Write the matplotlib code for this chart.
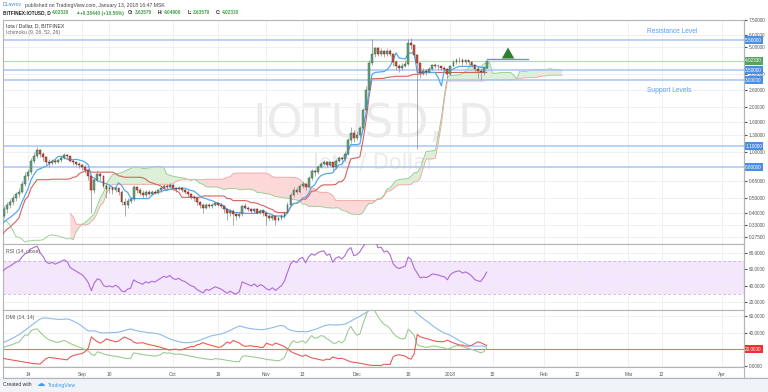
import numpy as np
import pandas as pd
import matplotlib
matplotlib.use('Agg')
import matplotlib.pyplot as plt
from matplotlib.patches import Rectangle
from matplotlib.lines import Line2D

W, H = 768, 392
plt.rcParams['font.family'] = ['Liberation Sans', 'DejaVu Sans']

# daily bars, Bitfinex IOTUSD. history before the visible window (Jun 13 - Aug 5 2017)
pre_close = [0.59, 0.43, 0.41, 0.45, 0.50, 0.44, 0.45, 0.43, 0.39, 0.37, 0.39, 0.35, 0.36, 0.31,
             0.37, 0.38, 0.38, 0.40, 0.36, 0.40, 0.41, 0.40, 0.39, 0.38, 0.34, 0.36, 0.33, 0.27,
             0.26, 0.27, 0.26, 0.24, 0.20, 0.17, 0.21, 0.27, 0.25, 0.29, 0.27, 0.30, 0.28, 0.29,
             0.26, 0.28, 0.26, 0.29, 0.27, 0.29, 0.27, 0.29, 0.27, 0.30, 0.31, 0.38]
pre_high = [0.64, 0.60, 0.46, 0.47, 0.52, 0.51, 0.48, 0.47, 0.44, 0.41, 0.41, 0.40, 0.38, 0.37,
            0.39, 0.41, 0.40, 0.42, 0.41, 0.42, 0.43, 0.42, 0.41, 0.40, 0.39, 0.37, 0.37, 0.34,
            0.29, 0.29, 0.28, 0.27, 0.25, 0.21, 0.23, 0.29, 0.29, 0.31, 0.31, 0.32, 0.31, 0.31,
            0.30, 0.30, 0.29, 0.31, 0.30, 0.31, 0.30, 0.31, 0.30, 0.32, 0.33, 0.40]
pre_low = [0.55, 0.40, 0.37, 0.40, 0.44, 0.42, 0.42, 0.41, 0.37, 0.34, 0.36, 0.33, 0.33, 0.29,
           0.30, 0.35, 0.36, 0.37, 0.34, 0.35, 0.38, 0.37, 0.37, 0.36, 0.32, 0.32, 0.31, 0.25,
           0.24, 0.25, 0.24, 0.22, 0.18, 0.15, 0.16, 0.20, 0.23, 0.24, 0.25, 0.26, 0.26, 0.26,
           0.24, 0.25, 0.24, 0.25, 0.25, 0.26, 0.25, 0.26, 0.25, 0.26, 0.29, 0.30]

# visible bars Aug 6 2017 - Jan 13 2018
close = [0.42, 0.45, 0.47, 0.50, 0.53, 0.55, 0.62, 0.70, 0.74, 0.88, 0.95, 1.03, 0.97,
         0.93, 0.87, 0.85, 0.88, 0.86, 0.89, 0.92, 0.96, 0.94, 0.88, 0.86, 0.84, 0.82,
         0.80, 0.76, 0.70, 0.56, 0.66, 0.72, 0.70, 0.60, 0.57, 0.58, 0.56, 0.58, 0.55,
         0.47, 0.45, 0.48, 0.49, 0.59, 0.56, 0.54, 0.52, 0.55, 0.53, 0.55, 0.54, 0.56,
         0.58, 0.60, 0.59, 0.61, 0.58, 0.57, 0.58, 0.56, 0.55, 0.53, 0.51, 0.50, 0.47,
         0.45, 0.43, 0.45, 0.44, 0.45, 0.46, 0.45, 0.44, 0.42, 0.40, 0.41, 0.39, 0.38,
         0.39, 0.44, 0.43, 0.42, 0.41, 0.42, 0.40, 0.41, 0.40, 0.38, 0.37, 0.38, 0.36,
         0.37, 0.38, 0.40, 0.45, 0.52, 0.56, 0.55, 0.60, 0.62, 0.59, 0.68, 0.75, 0.74,
         0.80, 0.84, 0.86, 0.83, 0.86, 0.80, 0.88, 0.92, 0.90, 0.98,
         1.20, 1.35, 1.25, 1.30, 1.45, 1.90, 2.60, 3.90, 4.50, 4.90, 4.50, 4.70, 4.45, 4.70, 4.50,
         3.95, 3.70, 3.60, 3.75, 3.85, 5.30, 5.10, 4.40, 3.90, 3.35, 3.45, 3.40, 3.55,
         3.80, 3.75, 3.70, 3.60, 3.55, 3.30, 3.75, 3.95, 4.05, 4.10, 3.95, 4.05, 3.95,
         3.80, 3.55, 3.45, 3.40, 3.639, 4.0233]
high = [0.44, 0.47, 0.49, 0.52, 0.55, 0.58, 0.65, 0.74, 0.78, 0.92, 1.00, 1.08, 1.05,
        1.00, 0.95, 0.90, 0.91, 0.90, 0.91, 0.95, 0.99, 0.98, 0.95, 0.90, 0.88, 0.86,
        0.84, 0.82, 0.77, 0.71, 0.68, 0.76, 0.74, 0.71, 0.62, 0.61, 0.60, 0.60, 0.59,
        0.56, 0.50, 0.50, 0.51, 0.61, 0.60, 0.58, 0.56, 0.56, 0.56, 0.56, 0.56, 0.57,
        0.59, 0.62, 0.62, 0.63, 0.62, 0.59, 0.60, 0.59, 0.57, 0.56, 0.54, 0.52, 0.51,
        0.48, 0.46, 0.46, 0.46, 0.46, 0.47, 0.47, 0.46, 0.45, 0.43, 0.42, 0.42, 0.40,
        0.40, 0.45, 0.46, 0.44, 0.43, 0.43, 0.43, 0.42, 0.42, 0.41, 0.39, 0.39, 0.38,
        0.38, 0.39, 0.41, 0.47, 0.54, 0.59, 0.59, 0.62, 0.65, 0.63, 0.70, 0.78, 0.78,
        0.82, 0.87, 0.89, 0.88, 0.88, 0.87, 0.90, 0.95, 0.94, 1.02,
        1.25, 1.48, 1.40, 1.38, 1.50, 1.98, 2.75, 4.10, 5.60, 5.00, 4.95, 4.90, 4.75, 4.90, 4.80,
        4.55, 4.10, 3.85, 3.90, 4.10, 5.60, 5.70, 5.15, 4.45, 3.95, 3.60, 3.55, 3.65,
        3.85, 3.90, 3.85, 3.75, 3.70, 3.60, 3.80, 4.05, 4.20, 4.30, 4.20, 4.15, 4.10,
        4.00, 3.85, 3.65, 3.55, 3.70, 4.049]
low = [0.37, 0.40, 0.43, 0.45, 0.48, 0.51, 0.54, 0.60, 0.66, 0.72, 0.85, 0.92, 0.93,
       0.88, 0.83, 0.80, 0.83, 0.84, 0.85, 0.87, 0.90, 0.91, 0.86, 0.83, 0.81, 0.79,
       0.77, 0.73, 0.66, 0.40, 0.54, 0.64, 0.65, 0.58, 0.50, 0.54, 0.53, 0.55, 0.52,
       0.45, 0.38, 0.43, 0.46, 0.48, 0.54, 0.52, 0.50, 0.51, 0.52, 0.52, 0.53, 0.53,
       0.55, 0.57, 0.57, 0.58, 0.56, 0.55, 0.56, 0.55, 0.53, 0.51, 0.49, 0.48, 0.45,
       0.43, 0.40, 0.42, 0.43, 0.43, 0.44, 0.44, 0.43, 0.40, 0.36, 0.38, 0.33, 0.36,
       0.37, 0.38, 0.42, 0.41, 0.40, 0.40, 0.39, 0.39, 0.38, 0.33, 0.36, 0.36, 0.33,
       0.35, 0.36, 0.37, 0.40, 0.44, 0.51, 0.53, 0.54, 0.58, 0.56, 0.58, 0.66, 0.70,
       0.72, 0.79, 0.82, 0.80, 0.81, 0.77, 0.78, 0.87, 0.86, 0.88,
       0.96, 1.15, 1.18, 1.20, 1.25, 1.42, 1.85, 2.55, 3.80, 4.30, 4.35, 4.35, 4.25, 4.35, 4.35,
       3.70, 3.50, 3.40, 3.50, 3.65, 3.80, 4.85, 4.20, 1.05, 3.10, 3.25, 3.25, 3.35,
       3.50, 3.60, 3.55, 3.50, 3.40, 3.10, 3.25, 3.70, 3.85, 3.90, 3.80, 3.85, 3.80,
       3.65, 3.40, 3.10, 3.00, 3.25, 3.6357]

price_ticks = [7.5, 6.0, 5.0, 3.3, 2.6, 2.0, 1.6, 1.3, 1.0, 0.65, 0.5, 0.4, 0.33, 0.275]
levels = [5.5, 3.5, 3.0, 1.1, 0.8]
last_price = 4.0233
# day index 0 = Aug 6 2017
date_ticks = [8, 26, 35, 56, 71, 87, 99, 117, 134, 148, 162, 179, 190, 207, 218, 238]
date_labels = ['14', 'Sep', '10', 'Oct', '16', 'Nov', '13', 'Dec', '18', '2018', '15',
               'Feb', '12', 'Mar', '12', 'Apr']

n_pre = len(pre_close)
c = np.array(pre_close + close)
h = np.array(pre_high + high)
l = np.array(pre_low + low)
o = np.concatenate([[0.63], c[:-1]])
o[-1] = 3.6357
xs = np.arange(len(c)) - n_pre

Cs, Hs, Ls = pd.Series(c), pd.Series(h), pd.Series(l)

# ichimoku 9/26/52/26
tenkan = (Hs.rolling(9).max() + Ls.rolling(9).min()) / 2
kijun = (Hs.rolling(26).max() + Ls.rolling(26).min()) / 2
lead1 = ((tenkan + kijun) / 2).values
lead2 = ((Hs.rolling(52).max() + Ls.rolling(52).min()) / 2).values
xl = xs + 25


def rma(s, n=14):
    return s.ewm(alpha=1.0 / n, adjust=False).mean()


d = Cs.diff()
rsi = 100 - 100 / (1 + rma(d.clip(lower=0)) / rma((-d).clip(lower=0)))

up = Hs.diff()
dn = -Ls.diff()
pdm = pd.Series(np.where((up > dn) & (up > 0), up, 0.0))
mdm = pd.Series(np.where((dn > up) & (dn > 0), dn, 0.0))
tr = pd.concat([Hs - Ls, (Hs - Cs.shift()).abs(), (Ls - Cs.shift()).abs()], axis=1).max(axis=1)
atr = rma(tr)
pdi = 100 * rma(pdm) / atr
mdi = 100 * rma(mdm) / atr
adx = 100 * rma((pdi - mdi).abs() / (pdi + mdi))


def rect(x0, y0, x1, y1):
    return [x0 / W, 1 - y1 / H, (x1 - x0) / W, (y1 - y0) / H]


fig = plt.figure(figsize=(7.68, 3.92), dpi=100)
fig.patches.append(Rectangle((0, 0), 1, 15 / H, transform=fig.transFigure,
                             color='#f0f3f7', zorder=0))

XL = (-0.29, 245.3)
grid_c = '#eeeeee'
spine_c = '#b4b4b4'
axcol = '#555555'


def style(ax):
    ax.set_xlim(*XL)
    ax.set_xticks(date_ticks)
    ax.grid(True, color=grid_c, lw=0.6)
    ax.set_axisbelow(True)
    for s in ax.spines.values():
        s.set_color(spine_c)
        s.set_linewidth(0.8)
    ax.yaxis.tick_right()
    ax.tick_params(axis='y', direction='out', length=2, pad=1.5, labelsize=3.4,
                   colors=axcol, right=True, left=False)
    ax.tick_params(axis='x', length=0, labelbottom=False)


def tag(ax, val, txt, col):
    ax.text(1.0015, val, txt, transform=ax.get_yaxis_transform(), ha='left', va='center',
            fontsize=3.4, color='white', clip_on=False, zorder=10,
            bbox=dict(boxstyle='square,pad=0.3', fc=col, ec='none'))


# ---- main pane
ax = fig.add_axes(rect(3, 20, 744, 244))
ax.set_yscale('log')
ax.set_ylim(0.248, 7.42)
style(ax)
ax.set_yticks(price_ticks)
ax.set_yticklabels(['%.5f' % t for t in price_ticks])
ax.yaxis.set_minor_locator(matplotlib.ticker.NullLocator())

ax.text(0.5, 0.535, 'IOTUSD, D', transform=ax.transAxes, ha='center', va='center',
        fontsize=33, color='#ebebeb', zorder=0, family='DejaVu Sans')
ax.text(0.5, 0.365, 'Iota / Dollar', transform=ax.transAxes, ha='center', va='center',
        fontsize=15, color='#ebebeb', zorder=0, family='DejaVu Sans')

ax.fill_between(xl, lead1, lead2, where=lead1 >= lead2, interpolate=True,
                color='#ddefd9', lw=0, zorder=1)
ax.fill_between(xl, lead1, lead2, where=lead1 < lead2, interpolate=True,
                color='#fcd8d8', lw=0, zorder=1)
ax.plot(xl, lead1, color='#8fcb8b', lw=0.6, zorder=2)
ax.plot(xl, lead2, color='#f2a0a0', lw=0.6, zorder=2)
ax.plot(xs, kijun, color='#d6615c', lw=0.8, zorder=3)
ax.plot(xs, tenkan, color='#55a8f2', lw=0.9, zorder=3)

for lv in levels:
    ax.axhline(lv, color='#a8c6f4', lw=1.1, zorder=2)
    tag(ax, lv, '%.5f' % lv, '#4a8fe7')
ax.axhline(last_price, color='#b5d9b3', lw=0.8, zorder=2)
tag(ax, last_price, '%.5f' % last_price, '#58a35c')

isup = c >= o
ax.vlines(xs, l, h, color='#8a8a8c', lw=0.5, zorder=4)
ax.bar(xs[isup], (c - o)[isup], bottom=o[isup], width=0.62, color='#6ba583',
       edgecolor='#225437', lw=0.3, zorder=5)
ax.bar(xs[~isup], (o - c)[~isup], bottom=c[~isup], width=0.62, color='#d75442',
       edgecolor='#5b1a13', lw=0.3, zorder=5)

# drawings
ax.plot([160, 173.7], [4.16, 4.16], color='#7f86ee', lw=1.0, zorder=6)
ax.annotate('', xy=(167.1, 5.15), xytext=(167.1, 4.35),
            arrowprops=dict(arrowstyle='simple,head_width=0.9,head_length=0.8,tail_width=0.4',
                            color='#2e7d32', lw=0))
ax.text(213, 6.25, 'Resistance Level', fontsize=4.8, color='#5b9cf6', va='center')
ax.text(213.3, 2.58, 'Support Levels', fontsize=4.8, color='#5b9cf6', va='center')

ax.text(0.004, 0.975, 'Iota / Dollar, D, BITFINEX', transform=ax.transAxes, fontsize=3.7,
        color='#333333', va='center')
ax.text(0.004, 0.943, 'Ichimoku (9, 26, 52, 26)', transform=ax.transAxes, fontsize=3.7,
        color='#666666', va='center')

# ---- RSI pane
ax2 = fig.add_axes(rect(3, 244, 744, 310))
ax2.set_ylim(10.2, 91)
style(ax2)
ax2.set_yticks([20, 40, 60, 80])
ax2.set_yticklabels(['%.4f' % t for t in [20, 40, 60, 80]])
ax2.axhspan(30, 70, color='#f3e6fd', lw=0, zorder=0.5)
ax2.axhline(70, color='#c2aed6', lw=0.6, ls=(0, (3, 3)))
ax2.axhline(30, color='#c2aed6', lw=0.6, ls=(0, (3, 3)))
ax2.plot(xs, rsi, color='#b06ad8', lw=0.8, zorder=3)
ax2.text(0.004, 0.88, 'RSI (14, close)', transform=ax2.transAxes, fontsize=3.7,
         color='#555555', va='center')

# ---- DMI pane
ax3 = fig.add_axes(rect(3, 310, 744, 367))
ax3.set_ylim(-1.2, 67.2)
style(ax3)
ax3.set_yticks([0, 20, 40, 60])
ax3.set_yticklabels(['0.0000', '', '40.0000', '60.0000'])
ax3.plot(xs, adx, color='#8dbbe9', lw=0.8, zorder=3)
ax3.plot(xs, pdi, color='#9ccb96', lw=0.8, zorder=3)
ax3.plot(xs, mdi, color='#e65c5c', lw=0.8, zorder=3)
ax3.axhline(20, color='#f07070', lw=0.8, zorder=2)
tag(ax3, 20, '20.0000', '#f23030')
ax3.text(0.004, 0.87, 'DMI (14, 14)', transform=ax3.transAxes, fontsize=3.7,
         color='#555555', va='center')
ax3.tick_params(axis='x', labelbottom=True, length=0, pad=3.5, labelsize=3.5,
                colors=axcol)
ax3.set_xticklabels(date_labels)

# frame lines
fig.add_artist(Line2D([744 / W, 744 / W], [1 - 20 / H, 1 - 378 / H], color=spine_c, lw=0.8))
fig.add_artist(Line2D([3 / W, 768 / W], [1 - 378 / H, 1 - 378 / H], color=spine_c, lw=0.8))
fig.add_artist(Line2D([3 / W, 3 / W], [1 - 367 / H, 1 - 378 / H], color=spine_c, lw=0.8))


# header and footer text, pixel positions
def put(x, y, s, col, size=3.7, wt='normal'):
    fig.text(x / W, 1 - y / H, s, color=col, fontsize=size, fontweight=wt,
             ha='left', va='center')


put(3, 5, 'DLavrov', '#3a88d6')
put(25, 5, 'published on TradingView.com, January 13, 2018 16:47 MSK', '#444444')
dark = '#222222'
g = '#3fa046'
for x, s, col in [(3, 'BITFINEX:IOTUSD, D', dark), (52, '4.02330', g), (75, '\u25b2', g),
                  (80, '+0.38440 (+10.56%)', g), (128, 'O:', dark), (135, '3.63570', g),
                  (158, 'H:', dark), (164, '4.04900', g), (188, 'L:', dark),
                  (193, '3.63570', g), (216, 'C:', dark), (222, '4.02330', g)]:
    put(x, 13, s, col, size=3.4, wt='bold')
put(3, 385, 'Created with', '#333333', size=3.6)
put(37, 384.5, '\u2601', '#3d9ae8', size=6)
put(48, 385, 'TradingView', '#3d9ae8', size=3.6)

fig.savefig('out.png', dpi=100)
